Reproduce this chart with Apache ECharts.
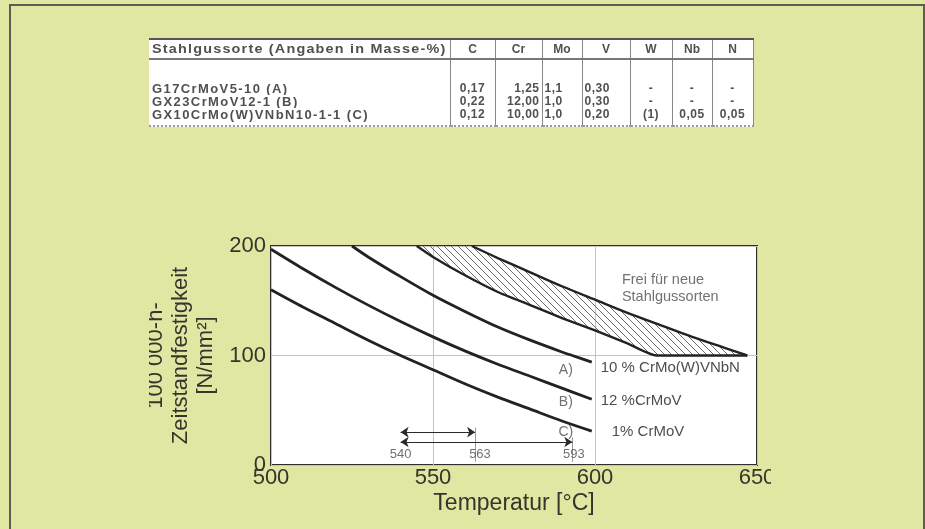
<!DOCTYPE html>
<html>
<head>
<meta charset="utf-8">
<script src="https://cdn.jsdelivr.net/npm/echarts@6/dist/echarts.min.js"></script>
<style>
  html, body { margin: 0; padding: 0; width: 925px; height: 529px; overflow: hidden;
    background: #dfe7a2; font-family: 'Liberation Sans', Arial, sans-serif; }
  #frame { position: absolute; left: 9px; top: 4px; width: 916px; height: 540px;
    border: 2px solid #5c5c55; border-bottom: none; box-sizing: border-box; }
  #chart { position: absolute; left: 149px; top: 0; width: 622px; height: 529px; }
  #tbl { position: absolute; left: 149px; top: 38px; width: 604px; border-collapse: collapse;
    background: #fff; color: #505050; font-size: 12px; font-weight: bold; table-layout: fixed;
    filter: blur(0.4px); }
  #tbl th, #tbl td { padding: 0 2px; white-space: nowrap; overflow: hidden; }
  #tbl thead th { height: 18px; border-top: 2px solid #555; border-bottom: 2px solid #777;
    border-left: 1px solid #888; text-align: center; font-weight: bold; }
  #tbl thead th:first-child { border-left: none; text-align: left; padding-left: 3px; }
  #tbl thead th:first-child span { display: inline-block; letter-spacing: 1px;
    transform: scaleX(1.2); transform-origin: left center; }
  #tbl td { border-left: 1px solid #888; line-height: 13px; letter-spacing: 0.5px; }
  #tbl td:first-child { border-left: none; text-align: left; padding-left: 3px;
    font-size: 13px; letter-spacing: 1.4px; }
  #tbl td:last-child, #tbl th:last-child { border-right: 1px solid #888; }
  #tbl tbody tr:first-child td { padding-top: 22px; }
  #tbl tbody tr:last-child td { padding-bottom: 4px; border-bottom: 2px dotted #999; }
</style>
</head>
<body>
<div id="frame"></div>
<div id="chart"></div>
<table id="tbl"></table>
<script>
// ---- composition table ----
const tableHeader = ['Stahlgussorte (Angaben in Masse-%)', 'C', 'Cr', 'Mo', 'V', 'W', 'Nb', 'N'];
const steelGrades = ['G17CrMoV5-10 (A)', 'GX23CrMoV12-1 (B)', 'GX10CrMo(W)VNbN10-1-1 (C)'];
const colC  = ['0,17', '0,22', '0,12'];
const colCr = ['1,25', '12,00', '10,00'];
const colMo = ['1,1', '1,0', '1,0'];
const colV  = ['0,30', '0,30', '0,20'];
const colW  = ['-', '-', '(1)'];
const colNb = ['-', '-', '0,05'];
const colN  = ['-', '-', '0,05'];

// ---- creep rupture strength curves (T in °C, strength in N/mm²) ----
const curveC_T = [500, 510, 520, 530, 540, 550, 560, 570, 580, 590, 599];
const curveC_V = [160, 144, 129, 114, 100, 87, 74, 62, 51, 40, 31];
const curveB_T = [500, 510, 520, 530, 540, 550, 560, 570, 580, 590, 599];
const curveB_V = [197, 179, 162, 146, 131, 117, 104, 92, 81, 70, 60];
const curveA_T = [525, 530, 540, 550, 560, 570, 580, 590, 593, 599];
const curveA_V = [200, 190, 172, 155, 140, 126, 114, 103, 100, 94];
const bandUpperT = [562, 570, 580, 590, 600, 610, 620, 630, 640, 647];
const bandUpperV = [200, 189, 176, 163, 151, 139, 128, 117, 107, 100];
const bandLowerT = [545, 550, 560, 570, 580, 590, 600, 610, 619, 647];
const bandLowerV = [200, 190, 173, 158, 146, 134, 123, 111, 100, 100];
const curveKeys = ['A)', 'B)', 'C)'];
const curveNames = ['10 % CrMo(W)VNbN', '12 %CrMoV', '1% CrMoV'];
const bandText = 'Frei für neue\nStahlgussorten';

// temperatures at which each grade reaches 100 N/mm²
const markTemps = [540, 563, 593];

// axis ticks
const xTicks = [500, 550, 600, 650];
const yTicks = [0, 100, 200];

// ---- table ----
(function buildTable() {
  const tbl = document.getElementById('tbl');
  const widths = [301, 45, 47, 40, 48, 42, 40, 41];
  const cg = document.createElement('colgroup');
  widths.forEach(w => { const c = document.createElement('col'); c.style.width = w + 'px'; cg.appendChild(c); });
  tbl.appendChild(cg);
  const thead = document.createElement('thead');
  const hr = document.createElement('tr');
  tableHeader.forEach(h => {
    const th = document.createElement('th');
    const sp = document.createElement('span'); sp.textContent = h; th.appendChild(sp);
    hr.appendChild(th);
  });
  thead.appendChild(hr); tbl.appendChild(thead);
  const tbody = document.createElement('tbody');
  const aligns = ['left', 'center', 'right', 'left', 'left', 'center', 'center', 'center'];
  steelGrades.forEach((g, i) => {
    const tr = document.createElement('tr');
    [g, colC[i], colCr[i], colMo[i], colV[i], colW[i], colNb[i], colN[i]].forEach((v, j) => {
      const td = document.createElement('td'); td.textContent = v; td.style.textAlign = aligns[j]; tr.appendChild(td);
    });
    tbody.appendChild(tr);
  });
  tbl.appendChild(tbody);
})();

// ---- chart ----
const chart = echarts.init(document.getElementById('chart'), null, { renderer: 'canvas' });
const zip = (xs, ys) => xs.map((x, i) => [x, ys[i]]);
const FONT = "'Liberation Sans', Arial, sans-serif";
const INK = '#35352c';

function hatchPattern() {
  const s = 7, c = document.createElement('canvas');
  c.width = c.height = s;
  const g = c.getContext('2d');
  g.strokeStyle = '#6e6e6e'; g.lineWidth = 1;
  g.beginPath();
  g.moveTo(0, 0); g.lineTo(s, s);
  g.moveTo(-1, s - 1); g.lineTo(1, s + 1);
  g.moveTo(s - 1, -1); g.lineTo(s + 1, 1);
  g.stroke();
  return { image: c, repeat: 'repeat' };
}

const curveStyle = { color: '#222', width: 2.8 };
function curve(name, t, v, labelOpt) {
  return {
    type: 'line', name, data: zip(t, v), smooth: 0.3, symbol: 'none', z: 5,
    lineStyle: curveStyle, itemStyle: { color: '#222' }, clip: true,
    endLabel: Object.assign({ show: true, formatter: name, fontFamily: FONT, fontSize: 15,
      color: '#4e4e4e', distance: 9 }, labelOpt)
  };
}
function textMark(t, v, text, opt) {
  return {
    type: 'scatter', data: [[t, v]], symbolSize: 0, silent: true, z: 6,
    label: Object.assign({ show: true, formatter: text, position: 'inside', fontFamily: FONT,
      fontSize: 14, color: '#4e4e4e' }, opt)
  };
}

const arrowRows = [
  { from: markTemps[0], to: markTemps[1], level: 30 },
  { from: markTemps[0], to: markTemps[2], level: 21 }
];

const option = {
  animation: false,
  textStyle: { fontFamily: FONT },
  grid: { left: 122, right: 14, top: 246, bottom: 64, show: true, backgroundColor: '#ffffff',
    borderColor: '#2e2e2e', borderWidth: 2, containLabel: false, outerBoundsMode: 'none' },
  xAxis: {
    type: 'value', min: xTicks[0], max: xTicks[xTicks.length - 1], interval: 50,
    name: 'Temperatur [°C]', nameLocation: 'middle', nameGap: 27,
    nameTextStyle: { fontSize: 23, color: INK, fontFamily: FONT },
    axisLine: { show: false }, axisTick: { show: false },
    axisLabel: { fontSize: 22, color: INK, margin: 2, fontFamily: FONT },
    splitLine: { show: true, lineStyle: { color: '#c4c4c4', width: 1 } }
  },
  yAxis: {
    type: 'value', min: yTicks[0], max: yTicks[yTicks.length - 1], interval: 100,
    name: '100 000-h-\nZeitstandfestigkeit\n[N/mm²]', nameLocation: 'middle', nameGap: 50, nameRotate: 90,
    nameTextStyle: { fontSize: 22, lineHeight: 25, color: INK, fontFamily: FONT, align: 'center' },
    axisLine: { show: false }, axisTick: { show: false },
    axisLabel: { fontSize: 22, color: INK, margin: 5, fontFamily: FONT },
    splitLine: { show: true, lineStyle: { color: '#c4c4c4', width: 1 } }
  },
  series: [
    {
      type: 'custom', z: 3, silent: true, clip: true, data: [[600, 150]],
      renderItem: (params, api) => {
        const upper = zip(bandUpperT, bandUpperV).map(p => api.coord(p));
        const lower = zip(bandLowerT, bandLowerV).map(p => api.coord(p)).reverse();
        return { type: 'polygon', shape: { points: upper.concat(lower), smooth: 0.2 },
          style: { fill: hatchPattern(), stroke: null } };
      }
    },
    { type: 'line', data: zip(bandUpperT, bandUpperV), smooth: 0.3, symbol: 'none', z: 5,
      lineStyle: { color: '#222', width: 2.4 }, clip: true },
    { type: 'line', data: zip(bandLowerT, bandLowerV), smooth: 0.2, symbol: 'none', z: 5,
      lineStyle: { color: '#222', width: 2.4 }, clip: true },
    curve(curveNames[0], curveA_T, curveA_V, { offset: [0, 6] }),
    curve(curveNames[1], curveB_T, curveB_V, { offset: [0, 2] }),
    curve(curveNames[2], curveC_T, curveC_V, { distance: 20, offset: [0, 1] }),
    {
      type: 'lines', coordinateSystem: 'cartesian2d', z: 6, silent: true,
      symbol: ['arrow', 'arrow'], symbolSize: 8,
      lineStyle: { color: '#2a2a2a', width: 1, opacity: 1 },
      data: arrowRows.map(r => ({ coords: [[r.from, r.level], [r.to, r.level]] }))
    },
    {
      type: 'lines', coordinateSystem: 'cartesian2d', z: 4, silent: true, symbol: 'none',
      lineStyle: { color: '#9a9a9a', width: 1, opacity: 1 },
      data: [
        { coords: [[markTemps[1], arrowRows[0].level + 4], [markTemps[1], 3]] },
        { coords: [[markTemps[2], arrowRows[1].level + 4], [markTemps[2], 3]] }
      ]
    },
    textMark(markTemps[0], 10, String(markTemps[0]), { fontSize: 13 }),
    textMark(markTemps[1] + 1.5, 10, String(markTemps[1]), { fontSize: 13 }),
    textMark(markTemps[2] + 0.5, 10, String(markTemps[2]), { fontSize: 13 }),
    textMark(591, 87, curveKeys[0], {}),
    textMark(591, 57, curveKeys[1], {}),
    textMark(591, 30, curveKeys[2], {}),
    textMark(608.3, 161.5, bandText, { position: 'right', distance: 0, fontSize: 14.5, lineHeight: 17, align: 'left' })
  ]
};
chart.setOption(option);
</script>
</body>
</html>
